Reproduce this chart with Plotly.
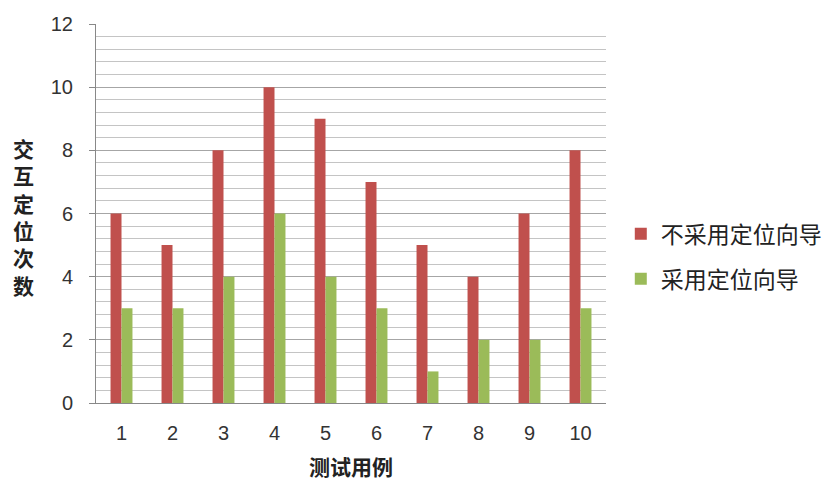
import plotly.graph_objects as go

cases = ["1", "2", "3", "4", "5", "6", "7", "8", "9", "10"]
without_wizard = [6, 5, 8, 10, 9, 7, 5, 4, 6, 8]
with_wizard = [3, 3, 4, 6, 4, 3, 1, 2, 2, 3]
series_names = ["不采用定位向导", "采用定位向导"]
y_ticks = [0, 2, 4, 6, 8, 10, 12]

RED = "#c0504d"
GREEN = "#9bbb59"
CJK = "Noto Sans CJK SC"
LATIN = "Liberation Sans, Noto Sans CJK SC"

fig = go.Figure()
fig.add_trace(go.Bar(x=cases, y=without_wizard, name=series_names[0],
                     marker=dict(color=RED, line=dict(width=0)),
                     legendgroup="a"))
fig.add_trace(go.Bar(x=cases, y=with_wizard, name=series_names[1],
                     marker=dict(color=GREEN, line=dict(width=0)),
                     legendgroup="b"))

fig.update_layout(
    width=839, height=482,
    margin=dict(l=96, r=229, t=24, b=79),
    paper_bgcolor="white", plot_bgcolor="white",
    barmode="group", bargap=0.57, bargroupgap=0,
    font=dict(family=LATIN, size=20, color="#333333"),
    showlegend=True,
    legend=dict(x=1.029, y=0.387, xanchor="left", yanchor="middle",
                font=dict(family=CJK, size=23, color="#222222"),
                tracegroupgap=12, bgcolor="rgba(0,0,0,0)"),
)

fig.update_xaxes(
    type="category", showgrid=False, zeroline=False,
    showline=True, linecolor="#888888", linewidth=1,
    ticks="", ticklabelstandoff=12,
    tickfont=dict(family=LATIN, size=20, color="#333333"),
)

fig.update_yaxes(
    range=[0, 12], tickvals=y_ticks, ticktext=[str(v) for v in y_ticks],
    showgrid=True, gridcolor="#a6a6a6", gridwidth=1,
    minor=dict(dtick=0.4, showgrid=True, gridcolor="#c4c4c4", gridwidth=1),
    zeroline=False, showline=True, linecolor="#888888", linewidth=1,
    ticks="outside", ticklen=6, tickcolor="#888888",
    ticklabelstandoff=12,
    tickfont=dict(family=LATIN, size=20, color="#333333"),
)

# vertical stacked y-axis title
fig.add_annotation(
    text="<br>".join(list("交互定位次数")),
    xref="paper", yref="paper", x=-0.142, y=0.492,
    xanchor="center", yanchor="middle", showarrow=False,
    font=dict(family=CJK, size=21, color="#222222", weight="bold"),
    align="center",
)

# x-axis title
fig.add_annotation(
    text="测试用例", xref="paper", yref="paper", x=0.5, y=-0.165,
    xanchor="center", yanchor="middle", showarrow=False,
    font=dict(family=CJK, size=21, color="#222222", weight="bold"),
)

fig.write_html("out.html")
